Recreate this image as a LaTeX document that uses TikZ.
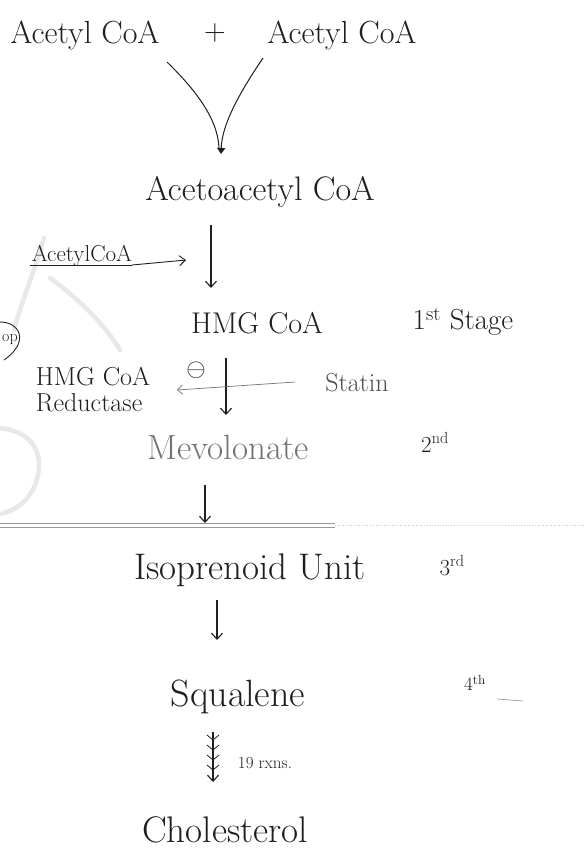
\documentclass[tikz,border=0pt]{standalone}
\usetikzlibrary{arrows.meta,calc}
\begin{document}
\begin{tikzpicture}[x=1pt,y=-1pt,
  lbl/.style={inner sep=0pt, text=black!88},
  fs/.style={font=\fontsize{#1}{#1}\selectfont},
  flow/.style={draw=black!88, line width=1.1pt, -{Straight Barb[length=6pt,width=11pt]}},
  hint/.style={draw=black!55, line width=0.7pt, -{Straight Barb[length=5pt,width=9pt]}},
  ghost/.style={draw=black!9, line width=4.5pt, line cap=round},
]
\useasboundingbox (0,0) rectangle (585,852);
\fill[white] (0,0) rectangle (585,852);

% faint show-through strokes on the left margin
\draw[ghost] (44,238) .. controls (35,270) and (22,300) .. (14,330);
\draw[ghost] (50,278) .. controls (80,300) and (105,325) .. (120,350);
\draw[ghost] (0,428) .. controls (35,432) and (42,455) .. (38,475)
             .. controls (34,495) and (20,510) .. (0,514);

% ruled lines across the page
\draw[black!40, line width=0.7pt] (0,523) -- (335,523);
\draw[black!40, line width=0.7pt] (0,527) -- (335,527);
\draw[black!22, line width=0.7pt, dotted] (335,525) -- (585,525);

% substrates and intermediates
\node[lbl, fs=32] (a1)   at (85,35)   {Acetyl CoA};
\node[lbl, fs=30] (plus) at (215,33)  {+};
\node[lbl, fs=32] (a2)   at (342,35)  {Acetyl CoA};
\node[lbl, fs=34] (aac)  at (260,192) {Acetoacetyl CoA};
\node[lbl, fs=23] (ac3)  at (82,256)  {AcetylCoA};
\node[lbl, fs=30] (hmg)  at (257,323) {HMG CoA};
\node[lbl, fs=35, text=black!55] (mev) at (228,447) {Mevolonate};
\node[lbl, fs=37] (iso)  at (250,570) {Isoprenoid Unit};
\node[lbl, fs=38] (sq)   at (238,697) {Squalene};
\node[lbl, fs=37] (chol) at (225,830) {Cholesterol};

% enzyme, inhibitor and side notes
\node[lbl, fs=26, align=left] (enz) at (93,390) {HMG CoA\\Reductase};
\node[lbl, fs=26] (inh)    at (196,370) {$\ominus$};
\node[lbl, fs=26, text=black!70] (statin) at (357,383) {Statin};
\node[lbl, fs=16] (op)     at (10,340)  {op};
\node[lbl, fs=29] (st1)    at (463,322) {1\textsuperscript{st} Stage};
\node[lbl, fs=23] (st2)    at (435,442) {2\textsuperscript{nd}};
\node[lbl, fs=23] (st3)    at (452,566) {3\textsuperscript{rd}};
\node[lbl, fs=19] (st4)    at (475,683) {4\textsuperscript{th}};
\node[lbl, fs=17] (rx)     at (265,763) {19 rxns.};

% circle round the margin note
\draw[black!85, line width=0.9pt] ($(op)+(-10,-18)$) .. controls ($(op)+(10,-18)$) and ($(op)+(20,2)$) .. ($(op)+(-6,20)$);

% condensation of the two acetyl CoA
\draw[black!88, line width=1pt] ($(a1)+(82,27)$) .. controls ($(a1)+(118,62)$) and ($(a1)+(134,90)$) .. ($(aac)+(-41,-42)$);
\draw[black!88, line width=1pt, -{Triangle[length=6pt,width=8pt]}] ($(a2)+(-79,23)$) .. controls ($(a2)+(-104,60)$) and ($(a2)+(-120,90)$) .. ($(aac)+(-39,-38)$);

% acetyl CoA joining the chain
\draw[black!88, line width=0.9pt] ($(ac3)+(-52,9)$) -- ($(ac3)+(50,9)$);
\draw[black!88, line width=0.9pt, -{Straight Barb[length=6pt,width=10pt]}] ($(ac3)+(50,9)$) -- ($(aac)+(-74,68)$);

% main pathway
\draw[flow] ($(aac)+(-49,33)$) -- ($(hmg)+(-46,-35)$);
\draw[flow] ($(hmg)+(-31,35)$) -- ($(mev)+(-2,-32)$);
\draw[flow] ($(mev)+(-23,38)$) -- ($(iso)+(-45,-47)$);
\draw[flow] ($(iso)+(-33,30)$) -- ($(sq)+(-21,-57)$);

% many steps to cholesterol
\draw[flow] ($(sq)+(-25,35)$) -- ($(chol)+(-12,-48)$);
\foreach \d in {8,18,28,38} {
  \draw[black!88, line width=0.8pt] ($(sq)+(-31,35+\d-5)$) -- ($(sq)+(-25,35+\d)$) -- ($(sq)+(-19,35+\d-5)$);
}

% statin inhibiting the reductase
\draw[hint] ($(statin)+(-62,-1)$) -- ($(enz)+(84,0)$);

% short stroke beside the last stage
\draw[black!40, line width=0.7pt] ($(st4)+(22,16)$) -- ($(st4)+(48,18)$);
\end{tikzpicture}
\end{document}
